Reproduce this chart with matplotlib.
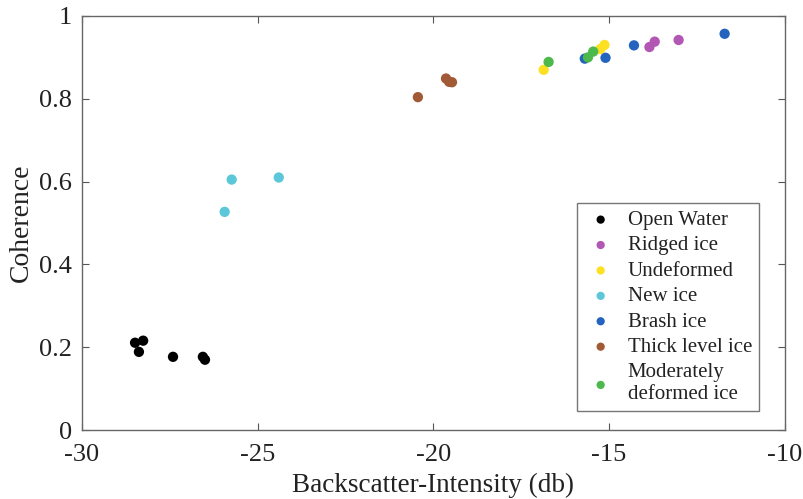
import matplotlib
matplotlib.use("Agg")
import matplotlib.pyplot as plt

# Backscatter intensity (db) and coherence per ice class
open_water_x = [-28.49, -28.26, -28.38, -27.41, -26.56, -26.50]
open_water_y = [0.211, 0.216, 0.189, 0.177, 0.177, 0.170]

ridged_x = [-13.85, -13.70, -13.02]
ridged_y = [0.925, 0.938, 0.942]

undeformed_x = [-16.86, -15.13, -15.25]
undeformed_y = [0.870, 0.930, 0.920]

new_ice_x = [-25.74, -24.40, -25.94]
new_ice_y = [0.605, 0.610, 0.527]

brash_x = [-15.69, -15.10, -14.29, -11.71]
brash_y = [0.897, 0.899, 0.929, 0.957]

thick_x = [-20.44, -19.64, -19.55, -19.47]
thick_y = [0.804, 0.849, 0.841, 0.840]

moderate_x = [-16.72, -15.45, -15.60]
moderate_y = [0.889, 0.914, 0.900]

series = [
    ("Open Water", open_water_x, open_water_y, "#000000"),
    ("Ridged ice", ridged_x, ridged_y, "#B257B4"),
    ("Undeformed", undeformed_x, undeformed_y, "#FCE021"),
    ("New ice", new_ice_x, new_ice_y, "#5CC7D9"),
    ("Brash ice", brash_x, brash_y, "#2463BE"),
    ("Thick level ice", thick_x, thick_y, "#A25A36"),
    ("Moderately\ndeformed ice", moderate_x, moderate_y, "#4DB84B"),
]

plt.rcParams["font.family"] = ["Liberation Serif", "DejaVu Serif"]
plt.rcParams["axes.unicode_minus"] = False

fig = plt.figure(figsize=(8.04, 4.99), dpi=100)
ax = fig.add_axes([0.102, 0.138, 0.874, 0.830])

for label, xs, ys, color in series:
    ax.scatter(xs, ys, s=55, color=color, edgecolors="none", label=label, zorder=3)

ax.set_xlim(-30, -10)
ax.set_ylim(0, 1)
ax.set_xticks([-30, -25, -20, -15, -10])
ax.set_yticks([0, 0.2, 0.4, 0.6, 0.8, 1])
ax.set_yticklabels(["0", "0.2", "0.4", "0.6", "0.8", "1"])
ax.tick_params(direction="in", length=5, labelsize=19, colors="#555555",
               labelcolor="#222222", top=True, right=True)
ax.tick_params(axis="x", pad=10)
ax.tick_params(axis="y", pad=7)
for sp in ax.spines.values():
    sp.set_color("#666666")
    sp.set_linewidth(1.0)

ax.set_xlabel("Backscatter-Intensity (db)", fontsize=19.5, color="#222222", labelpad=5)
ax.set_ylabel("Coherence", fontsize=20, color="#222222", labelpad=4)

leg = ax.legend(loc="lower right", bbox_to_anchor=(0.964, 0.046), borderaxespad=0,
                fontsize=15, frameon=True, fancybox=False, edgecolor="#555555",
                handletextpad=0.5, labelspacing=0.28, borderpad=0.35,
                markerscale=0.8, handlelength=1.6)
leg.get_frame().set_linewidth(1.0)
for t in leg.get_texts():
    t.set_color("#222222")

fig.savefig("out.png", dpi=100)
